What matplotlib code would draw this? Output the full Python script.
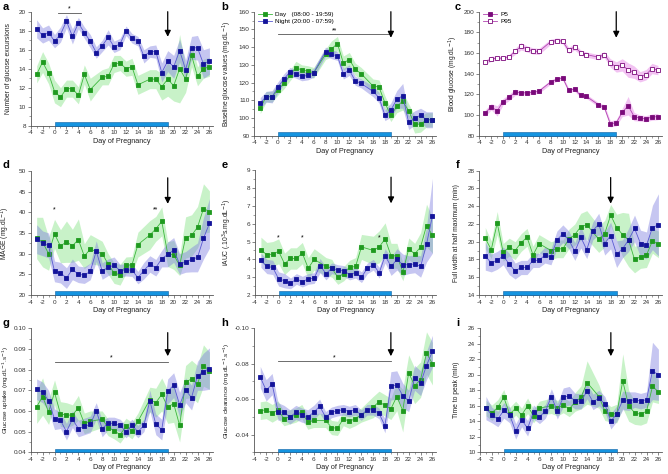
import numpy as np
import matplotlib.pyplot as plt
from matplotlib.patches import Rectangle
from matplotlib.ticker import MultipleLocator, FormatStrFormatter

plt.rcParams['font.family'] = ['Liberation Sans', 'DejaVu Sans']
plt.rcParams['axes.unicode_minus'] = False
nan = np.nan

# ---- data ----
days = np.arange(-3, 27)

# a - number of glucose excursions
a_day = [13.4, 14.7, 13.5, 11.6, 11.0, 11.9, 11.9, 11.2, 13.4, 11.8, nan, 13.1, 13.2, 14.5, 14.6,
         14.0, 14.2, 12.3, nan, 12.9, 12.9, 12.1, 12.9, 12.2, 14.0, 12.9, 15.4, 13.2, 14.0, 14.2]
a_day_err = [0.9, 1.1, 1.1, 1.2, 1.0, 0.9, 0.9, 0.9, 1.0, 1.2, nan, 0.8, 0.9, 0.9, 0.8,
             0.8, 0.9, 1.0, nan, 1.0, 1.0, 1.4, 1.8, 1.6, 3.6, 1.4, 1.2, 1.0, 1.0, 1.0]
a_night = [18.2, 17.5, 17.8, 16.9, 17.6, 19.0, 17.4, 18.8, 17.8, 16.9, 15.7, 16.4, 17.3, 16.3, 16.6,
           18.0, 17.2, 16.9, 15.3, 15.8, 15.8, 13.6, 14.8, 14.2, 15.9, 13.9, 16.2, 16.2, 14.5, 14.8]
a_night_err = [0.95, 0.8, 0.8, 0.7, 0.8, 0.7, 0.8, 0.6, 0.6, 0.7, 0.6, 0.6, 0.8, 0.6, 0.6,
               0.5, 0.5, 0.5, 0.7, 0.6, 0.7, 1.0, 1.1, 1.2, 1.2, 1.0, 1.2, 1.3, 1.5, 1.4]

# b - baseline glucose
b_day = [105.5, 112, 112, 116, 119.5, 124, 128.5, 127, 126.5, 125.5, nan, 136, 139, 142, 131,
         133, 127.5, 125, nan, 118, 117.5, 108.5, 101.5, 106.5, 109.5, 104, 96.5, 96.5, 99, 99]
b_day_err = [3, 3, 3, 3, 3, 3, 3.5, 3, 3, 3, nan, 3, 4.5, 4, 4,
             4, 3.5, 3.5, nan, 4, 4, 4, 3.5, 3.5, 5, 4, 5, 4.5, 4, 4]
b_night = [108.5, 112, 112, 117.5, 122, 126, 125, 123.5, 124, 125.5, nan, 137.5, 136, 135, 125,
           127, 121, 119.5, nan, 115, 111.5, 101.5, 104.5, 110.5, 112.5, 97.5, 100, 101.5, 99, 99]
b_night_err = [3, 3, 3.5, 3, 3, 2.5, 2.5, 2.5, 2.5, 2.5, nan, 2.5, 2.5, 2.5, 3,
               3, 2.5, 2.5, nan, 3, 3, 3, 4, 5, 7, 4, 4, 4, 4.5, 4.5]

# c - blood glucose percentiles
c_p5 = [102, 108, 104, 113, 117, 122, 121.5, 121.5, 122, 123, nan, 132, 134.5, 136, 124,
        125, 119, 118, nan, 110, 107.5, 91.5, 92.5, 102.5, 109, 98.5, 97, 96.5, 98, 98.5]
c_p5_err = [3, 3, 5, 3, 3, 3, 2, 2, 2, 2, nan, 2, 2, 2, 2,
            2, 2, 2, nan, 2, 2.5, 3, 3, 4, 9, 4, 3, 3, 3, 3]
c_p95 = [151, 154.5, 155, 155, 156.5, 161.5, 166.5, 164, 162, 161.5, nan, 171, 172, 171.5, 162.5,
         166, 160.5, 158.5, nan, 156, 158.5, 150.5, 146.5, 148.5, 143.5, 141.5, 137, 139, 145, 143.5]
c_p95_err = [2, 2.5, 2, 2, 2, 3, 3.5, 3, 3, 3, nan, 2.5, 2.5, 2.5, 3,
             3, 2.5, 2.5, nan, 2.5, 3, 4, 5, 6, 7, 6, 5, 5, 5, 4.5]

# d - MAGE
d_day = [33.8, 32.8, 30.0, 34.8, 31.8, 32.9, 31.9, 33.4, 29.4, 31.1, nan, 30.0, 27.5, 25.3, 24.9,
         27.2, 27.3, 32.2, nan, 34.5, 36.0, 37.8, 29.9, 29.7, 27.2, 33.9, 34.4, 36.4, 40.9, 40.2]
d_day_err = [5, 6, 4, 3.5, 4, 5, 4, 5, 3, 3.5, nan, 3, 2.5, 2.5, 2.5,
             2, 2, 3, nan, 3.5, 3, 3.5, 3, 3.5, 2.5, 5, 5, 5, 6, 5]
d_night = [33.5, 32.5, 32.0, 25.7, 25.4, 24.1, 26.2, 25.0, 24.8, 25.7, 30.6, 25.8, 26.7, 27.2, 25.9,
           26.1, 26.0, 24.2, 25.9, 27.5, 26.6, 28.8, 29.8, 30.9, 27.5, 28.0, 28.6, 29.1, 33.7, 37.3]
d_night_err = [3.5, 3, 3, 2.5, 2.5, 2.5, 2.5, 2, 2, 2, 2.5, 2, 2, 2, 1.5,
               1.5, 1.5, 1.5, 2, 2, 2, 2, 3, 3, 2.5, 2.5, 3, 3.5, 5, 6]

# e - iAUC
e_day = [4.55, 4.25, 4.3, 4.45, 3.75, 4.05, 4.05, 4.35, 3.5, 4.0, nan, 3.6, 3.5, 3.0, 3.2,
         3.55, 3.6, 4.7, nan, 4.5, 4.7, 5.15, 4.2, 4.2, 3.3, 4.6, 4.3, 4.7, 5.9, 5.35]
e_day_err = [0.7, 0.7, 0.7, 0.7, 0.6, 0.6, 0.6, 0.6, 0.6, 0.6, nan, 0.5, 0.5, 0.4, 0.4,
             0.4, 0.5, 0.7, nan, 0.8, 0.9, 0.9, 0.7, 0.7, 0.5, 0.6, 0.6, 0.8, 1.2, 1.0]
e_night = [3.95, 3.6, 3.55, 2.9, 2.8, 2.65, 2.9, 2.75, 2.9, 2.95, 3.65, 3.2, 3.5, 3.4, 3.35,
           3.15, 3.25, 3.0, 3.5, 3.7, 3.25, 4.2, 3.6, 4.0, 3.7, 3.7, 3.75, 3.6, 4.85, 6.45]
e_night_err = [0.4, 0.4, 0.4, 0.4, 0.4, 0.3, 0.3, 0.3, 0.3, 0.3, 0.4, 0.35, 0.3, 0.3, 0.3,
               0.3, 0.3, 0.3, 0.3, 0.3, 0.3, 0.4, 0.5, 0.6, 0.6, 0.5, 0.5, 0.6, 1.0, 2.1]

# f - full width at half maximum
f_day = [20.4, 19.1, 22.1, 18.8, 19.4, 19.0, 19.9, 20.5, 18.5, 19.8, nan, 19.0, 19.2, 19.2, 20.3,
         20.8, 21.7, 21.9, nan, 20.3, 20.9, 23.0, 21.6, 20.8, 20.2, 18.0, 18.3, 18.5, 20.1, 19.7]
f_day_err = [1.2, 1.0, 1.3, 1.0, 1.0, 1.0, 1.0, 1.0, 1.0, 1.0, nan, 1.0, 1.0, 1.0, 1.1,
             1.2, 1.5, 1.6, nan, 1.5, 1.5, 1.2, 1.5, 2.5, 3.0, 1.5, 1.3, 1.4, 1.4, 1.5]
f_night = [18.4, 17.6, 17.9, 18.4, 17.5, 16.7, 17.1, 17.1, 17.9, 17.9, 18.5, 18.3, 20.2, 20.9, 20.2,
           18.9, 20.5, 19.1, 21.2, 22.0, 19.8, 20.7, 18.6, 19.2, 20.2, 21.5, 19.8, 19.6, 21.6, 21.9]
f_night_err = [1.6, 1.0, 1.0, 1.0, 1.2, 0.9, 0.8, 0.8, 0.8, 0.8, 0.9, 0.9, 1.0, 1.0, 1.0,
               1.0, 1.2, 1.0, 1.0, 1.2, 1.3, 1.5, 1.5, 1.0, 1.3, 1.5, 1.5, 1.5, 2.5, 3.5]

# g - glucose uptake
g_day = [0.062, 0.067, 0.0595, 0.069, 0.0585, 0.058, 0.058, 0.0615, 0.054, 0.055, nan, 0.056, 0.052,
         0.0505, 0.0485, 0.0525, 0.0505, 0.055, nan, 0.0655, 0.064, 0.068, 0.062, 0.0635, 0.053,
         0.074, 0.0755, 0.073, 0.082, 0.0795]
g_day_err = [0.008, 0.009, 0.006, 0.006, 0.006, 0.006, 0.005, 0.006, 0.005, 0.005, nan, 0.004, 0.004,
             0.004, 0.004, 0.004, 0.004, 0.004, nan, 0.006, 0.007, 0.008, 0.008, 0.009, 0.008,
             0.008, 0.009, 0.009, 0.010, 0.009]
g_night = [0.0705, 0.069, 0.065, 0.056, 0.0555, 0.050, 0.056, 0.0515, 0.0525, 0.0535, 0.060, 0.0515,
           0.054, 0.054, 0.053, 0.050, 0.053, 0.050, 0.053, 0.065, 0.0535, 0.051, 0.0695, 0.0725,
           0.063, 0.070, 0.0665, 0.077, 0.079, 0.0805]
g_night_err = [0.005, 0.005, 0.005, 0.005, 0.004, 0.004, 0.004, 0.004, 0.004, 0.004, 0.004, 0.004,
               0.003, 0.003, 0.003, 0.003, 0.003, 0.003, 0.003, 0.005, 0.005, 0.005, 0.006, 0.006,
               0.006, 0.006, 0.006, 0.007, 0.009, 0.010]

# h - glucose clearance
h_day = [-0.0535, -0.054, -0.052, -0.054, -0.049, -0.050, -0.051, -0.053, -0.047, -0.048, nan, -0.048,
         -0.044, -0.0435, -0.049, -0.0475, -0.049, -0.051, nan, -0.0555, -0.0585, -0.0565, -0.0545,
         -0.0615, -0.0535, -0.075, -0.0675, -0.071, -0.086, -0.080]
h_day_err = [0.005, 0.005, 0.005, 0.005, 0.004, 0.004, 0.004, 0.004, 0.004, 0.004, nan, 0.004,
             0.004, 0.004, 0.004, 0.004, 0.004, 0.004, nan, 0.006, 0.006, 0.006, 0.006,
             0.008, 0.012, 0.010, 0.010, 0.010, 0.012, 0.012]
h_night = [-0.0725, -0.065, -0.0685, -0.053, -0.0525, -0.050, -0.0525, -0.051, -0.050, -0.0525, -0.056,
           -0.050, -0.0525, -0.0535, -0.054, -0.053, -0.054, -0.051, -0.054, -0.054, -0.052, -0.045,
           -0.0675, -0.068, -0.062, -0.059, -0.072, -0.069, -0.079, -0.087]
h_night_err = [0.006, 0.006, 0.006, 0.005, 0.004, 0.004, 0.004, 0.004, 0.004, 0.004, 0.004,
               0.003, 0.003, 0.003, 0.003, 0.003, 0.003, 0.003, 0.003, 0.003, 0.003, 0.004,
               0.008, 0.008, 0.007, 0.006, 0.007, 0.007, 0.008, 0.009]

# i - time to peak
i_day = [15.7, 15.1, 15.8, 17.1, 14.9, 15.7, 14.8, 16.0, 14.7, 15.7, nan, 16.0, 15.7, 16.1, 15.6,
         16.5, 17.1, 19.0, nan, 17.2, 15.3, 14.9, 15.0, 19.2, 16.0, 15.1, 14.9, 15.3, 18.5, 17.8]
i_day_err = [1.0, 1.0, 1.0, 1.0, 0.9, 0.9, 0.9, 1.0, 0.9, 0.9, nan, 1.0, 1.0, 1.0, 1.0,
             1.2, 1.5, 2.8, nan, 1.5, 1.2, 1.0, 1.2, 3.5, 2.0, 1.5, 1.4, 1.5, 2.0, 1.5]
i_night = [15.7, 14.8, 14.3, 15.4, 14.8, 12.7, 14.2, 13.1, 15.2, 14.6, 15.3, 17.2, 15.3, 17.1, 17.3,
           16.6, 16.6, 17.9, 16.5, 17.0, 16.2, 14.0, 15.0, 16.7, 16.6, 16.8, 16.6, 16.8, 20.5, 20.0]
i_night_err = [1.5, 1.0, 1.0, 1.0, 1.0, 1.0, 0.9, 1.0, 0.9, 0.9, 0.9, 1.0, 1.0, 1.2, 1.2,
               1.0, 1.0, 1.0, 1.0, 1.0, 1.0, 1.0, 1.0, 1.2, 1.2, 1.0, 1.0, 1.0, 3.7, 3.3]

# ---- colours ----
G_LINE, G_MARK, G_FILL = '#3cb83c', '#1f9a1f', '#86e486'
B_LINE, B_MARK, B_FILL = '#5a5ad2', '#14149a', '#8282e0'
P_LINE, P_MARK, P_FILL = '#b246b2', '#7a0a7a', '#e47ae4'
BAR = '#1594e0'

W, H = 668, 474
fig = plt.figure(figsize=(W / 100, H / 100), dpi=100)


def panel(x0, x1, y0, y1, label_x):
    # pixel box -> axes; label_x = pixel column of the y label anchor
    ax = fig.add_axes([x0 / W, 1 - y1 / H, (x1 - x0) / W, (y1 - y0) / H])
    ax._lx = (label_x - x0) / (x1 - x0)
    return ax


def draw(ax, y, e, line, mark, fill, hollow=False, label=None):
    y = np.asarray(y, float)
    e = np.asarray(e, float)
    m = ~np.isnan(y)
    x = days[m]
    ax.fill_between(x, y[m] - e[m], y[m] + e[m], color=fill, alpha=0.45, lw=0)
    ax.plot(x, y[m], color=line, lw=0.6, marker='s', ms=2.2,
            mfc='white' if hollow else mark, mec=mark, mew=0.6, label=label)


def style(ax, ylim, ystep, ylabel, fmt=None, arrow_x=19, arrow=(0.99, 0.78), lsize=4.9):
    ax.set_xlim(-4, 26.6)
    ax.set_ylim(*ylim)
    ax.xaxis.set_major_locator(MultipleLocator(2))
    ax.xaxis.set_minor_locator(MultipleLocator(1))
    ax.yaxis.set_major_locator(MultipleLocator(ystep))
    ax.yaxis.set_minor_locator(MultipleLocator(ystep / 2))
    if fmt:
        ax.yaxis.set_major_formatter(FormatStrFormatter(fmt))
    for s in ('top', 'right'):
        ax.spines[s].set_visible(False)
    for s in ('left', 'bottom'):
        ax.spines[s].set_color('#555555')
        ax.spines[s].set_linewidth(0.6)
    ax.tick_params(which='major', labelsize=4.6, length=2.2, width=0.5, color='#555555',
                   labelcolor='#333333', pad=1.2)
    ax.tick_params(which='minor', length=1.3, width=0.4, color='#555555')
    ax.set_xlabel('Day of Pregnancy', fontsize=5.2, labelpad=1.5, color='#222222')
    ax.set_ylabel(ylabel, fontsize=lsize, color='#222222')
    ax.yaxis.set_label_coords(ax._lx, 0.5)
    # pregnancy bar on the x axis
    ax.add_patch(Rectangle((0, 0), 19, 0.03, transform=ax.get_xaxis_transform(),
                           facecolor=BAR, edgecolor='#0b5fa5', lw=0.4, clip_on=False, zorder=5))
    # parturition arrow
    ax.annotate('', xy=(arrow_x, arrow[1]), xytext=(arrow_x, arrow[0]),
                xycoords=('data', 'axes fraction'), textcoords=('data', 'axes fraction'),
                arrowprops=dict(arrowstyle='-|>', color='black', lw=0.9,
                                mutation_scale=9, shrinkA=0, shrinkB=0))


def sig_bar(ax, x0, x1, y, txt):
    ax.plot([x0, x1], [y, y], color='#555555', lw=0.6)
    ax.text((x0 + x1) / 2, y, txt, ha='center', va='bottom', fontsize=5)


# ---- a ----
ax = panel(30.7, 213, 11.7, 125.7, 12)
draw(ax, a_day, a_day_err, G_LINE, G_MARK, G_FILL)
draw(ax, a_night, a_night_err, B_LINE, B_MARK, B_FILL)
style(ax, (8, 20), 2, 'Number of glucose excursions', arrow=(1.0, 0.78))
sig_bar(ax, 0.5, 4.5, 19.9, '*')

# ---- b ----
ax = panel(254.3, 436, 11.7, 135.7, 233.5)
draw(ax, b_day, b_day_err, G_LINE, G_MARK, G_FILL, label='Day   (08:00 - 19:59)')
draw(ax, b_night, b_night_err, B_LINE, B_MARK, B_FILL, label='Night (20:00 - 07:59)')
style(ax, (90, 160), 10, 'Baseline glucose values (mg.dL$^{-1}$)', arrow=(1.0, 0.79))
sig_bar(ax, 0, 19, 147.2, '**')
ax.legend(loc='upper left', bbox_to_anchor=(0.0, 1.03), frameon=False, fontsize=4.6,
          handlelength=2.2, handletextpad=0.5, labelspacing=0.25, borderaxespad=0.2)

# ---- c ----
ax = panel(479.3, 661.5, 11.7, 135.7, 460.5)
draw(ax, c_p5, c_p5_err, P_LINE, P_MARK, P_FILL, label='P5')
draw(ax, c_p95, c_p95_err, P_LINE, P_MARK, P_FILL, hollow=True, label='P95')
style(ax, (80, 200), 20, 'Blood glucose (mg.dL$^{-1}$)', arrow=(1.0, 0.79))
ax.legend(loc='upper left', bbox_to_anchor=(0.0, 1.03), frameon=False, fontsize=4.6,
          handlelength=2.2, handletextpad=0.5, labelspacing=0.25, borderaxespad=0.2)

# ---- d ----
ax = panel(30.7, 213, 171, 295, 12)
draw(ax, d_day, d_day_err, G_LINE, G_MARK, G_FILL)
draw(ax, d_night, d_night_err, B_LINE, B_MARK, B_FILL)
style(ax, (20, 50), 5, 'MAGE (mg.dL$^{-1}$)', arrow=(0.945, 0.735))
ax.text(0, 40.2, '*', ha='center', fontsize=5)
ax.text(17, 40.2, '**', ha='center', fontsize=5)

# ---- e ----
ax = panel(255, 436, 170.3, 295, 233.5)
draw(ax, e_day, e_day_err, G_LINE, G_MARK, G_FILL)
draw(ax, e_night, e_night_err, B_LINE, B_MARK, B_FILL)
style(ax, (2, 9), 1, 'iAUC (.10$^3$s.mg.dL$^{-1}$)', arrow=(0.945, 0.735))
for d in (0, 4, 17):
    ax.text(d, 5.1, '*', ha='center', fontsize=5)

# ---- f ----
ax = panel(479.3, 662, 170.7, 295, 460.5)
draw(ax, f_day, f_day_err, G_LINE, G_MARK, G_FILL)
draw(ax, f_night, f_night_err, B_LINE, B_MARK, B_FILL)
style(ax, (14, 28), 2, 'Full width at half maximum (min)', arrow_x=18, arrow=(0.945, 0.735))

# ---- g ----
ax = panel(30.7, 213, 328.3, 452.3, 11.5)
draw(ax, g_day, g_day_err, G_LINE, G_MARK, G_FILL)
draw(ax, g_night, g_night_err, B_LINE, B_MARK, B_FILL)
style(ax, (0.04, 0.10), 0.01, 'Glucose uptake (mg.dL$^{-1}$.s$^{-1}$)', fmt='%.2f',
      arrow=(0.965, 0.775), lsize=4.6)
sig_bar(ax, 0, 19, 0.0838, '*')

# ---- h ----
ax = panel(254.3, 436, 328.3, 452.3, 232)
draw(ax, h_day, h_day_err, G_LINE, G_MARK, G_FILL)
draw(ax, h_night, h_night_err, B_LINE, B_MARK, B_FILL)
style(ax, (-0.03, -0.10), 0.02, 'Glucose clearance (mg.dL$^{-1}$.s$^{-1}$)', fmt='%.2f',
      arrow=(0.965, 0.775), lsize=4.6)
ax.set_yticks([-0.10, -0.08, -0.06, -0.04])
ax.set_ylim(-0.03, -0.10)
sig_bar(ax, 0, 19, -0.0815, '*')

# ---- i ----
ax = panel(480, 662, 328.3, 452.3, 460.5)
draw(ax, i_day, i_day_err, G_LINE, G_MARK, G_FILL)
draw(ax, i_night, i_night_err, B_LINE, B_MARK, B_FILL)
style(ax, (10, 26), 2, 'Time to peak (min)', arrow_x=18, arrow=(0.965, 0.775))

# panel letters
for letter, (px, py) in zip('abcdefghi', [(6, 7), (225, 7), (458, 7), (6, 165), (225, 165),
                                           (458, 165), (6, 323), (225, 323), (458, 323)]):
    fig.text(px / W, 1 - py / H, letter, fontsize=8, fontweight='bold', va='center', ha='center')

fig.savefig('out.png', dpi=100)
